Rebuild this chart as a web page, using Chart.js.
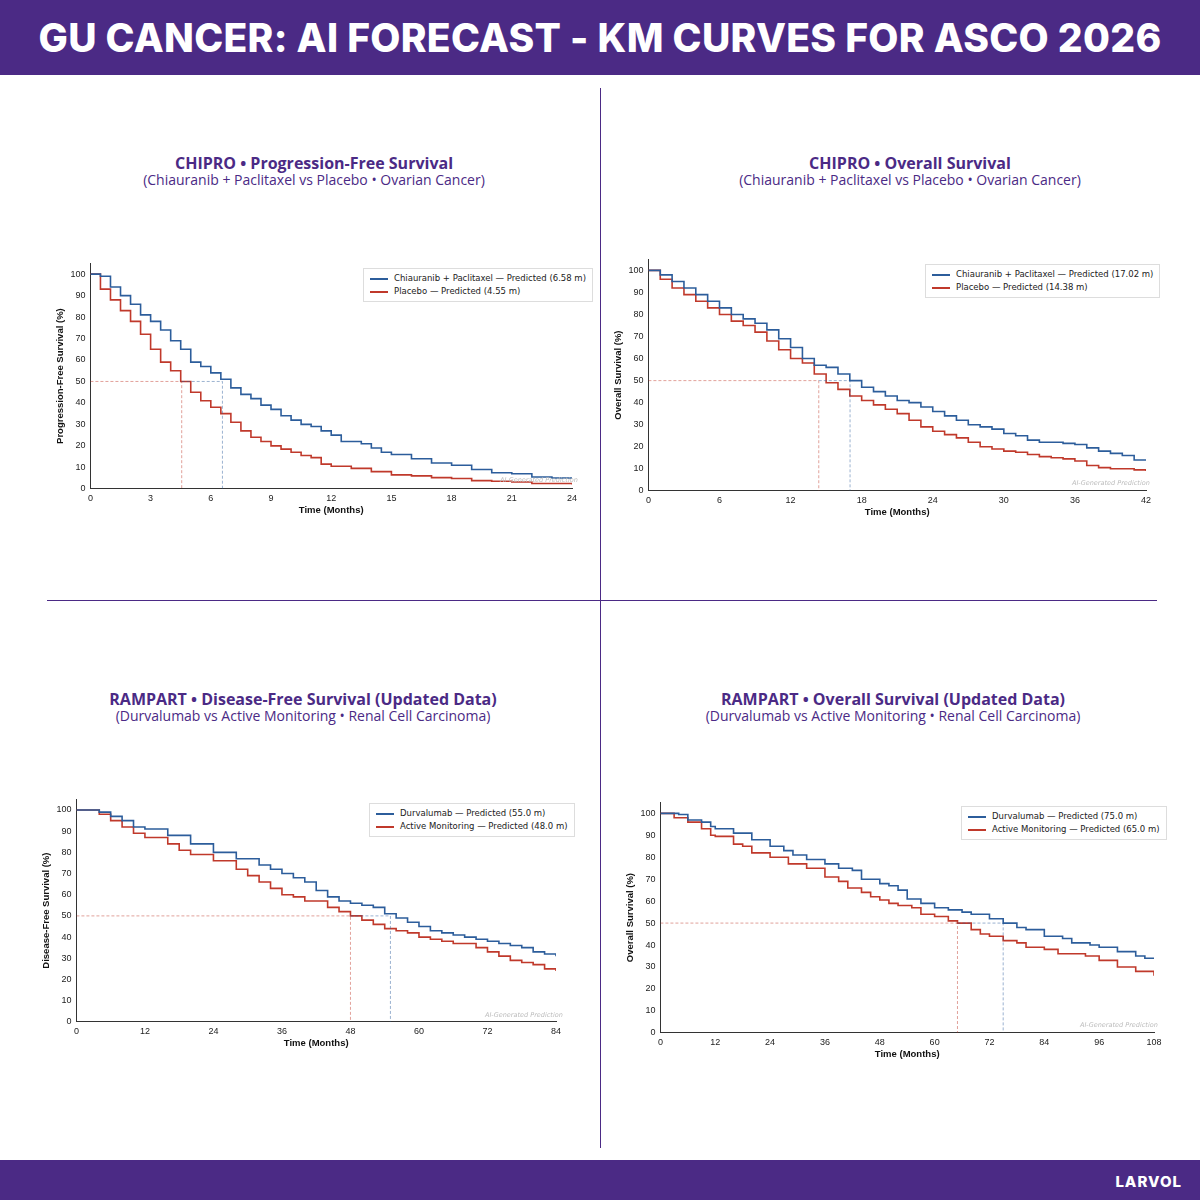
<!DOCTYPE html>
<html>
<head>
<meta charset="utf-8">
<script src="https://cdn.jsdelivr.net/npm/chart.js@4.4.6/dist/chart.umd.min.js"></script>
<style>
  html, body { margin: 0; padding: 0; }
  body { width: 1200px; height: 1200px; position: relative; background: #fff; font-family: "DejaVu Sans", sans-serif; overflow: hidden; }
  .band { position: absolute; left: 0; width: 1200px; background: #4b2a85; color: #fff; }
  #head { top: 0; height: 75px; font-family: Inter, "Open Sans", sans-serif; font-weight: 800; font-size: 39px; text-align: center; line-height: 75px; letter-spacing: 0.3px; }
  #foot { top: 1160px; height: 40px; font-family: Inter, sans-serif; font-weight: 800; font-size: 15px; letter-spacing: 1px; }
  #foot span { position: absolute; right: 18px; top: 12px; }
  .vline { position: absolute; left: 600px; top: 88px; width: 1px; height: 1060px; background: #4b2a85; }
  .hline { position: absolute; left: 47px; top: 600px; width: 1110px; height: 1px; background: #4b2a85; }
  .title { position: absolute; width: 560px; text-align: center; color: #4b2a85; font-family: "Open Sans", sans-serif; }
  .title b { display: block; font-size: 16px; font-weight: 700; }
  .title i { display: block; font-style: normal; font-size: 14px; margin-top: -4px; }
  .chart { position: absolute; }
  .legend { position: absolute; background: #fff; border: 1px solid #ddd; font-size: 8.5px; padding: 3px 6px; color: #222; line-height: 13px; }
  .legend div span { display: inline-block; width: 18px; height: 2px; vertical-align: middle; margin-right: 6px; }
  .wm { position: absolute; font-size: 6.5px; font-style: italic; color: #bbb; }
</style>
</head>
<body>
<div id="head" class="band">GU CANCER: AI FORECAST - KM CURVES FOR ASCO 2026</div>
<div id="foot" class="band"><span>LARVOL</span></div>
<div class="vline"></div>
<div class="hline"></div>

<div class="title" style="left:34px;top:152px"><b>CHIPRO • Progression-Free Survival</b><i>(Chiauranib + Paclitaxel vs Placebo • Ovarian Cancer)</i></div>
<div class="title" style="left:630px;top:152px"><b>CHIPRO • Overall Survival</b><i>(Chiauranib + Paclitaxel vs Placebo • Ovarian Cancer)</i></div>
<div class="title" style="left:23px;top:688px"><b>RAMPART • Disease-Free Survival (Updated Data)</b><i>(Durvalumab vs Active Monitoring • Renal Cell Carcinoma)</i></div>
<div class="title" style="left:613px;top:688px"><b>RAMPART • Overall Survival (Updated Data)</b><i>(Durvalumab vs Active Monitoring • Renal Cell Carcinoma)</i></div>

<canvas id="c1" class="chart" style="left:53px;top:256px" width="529" height="260"></canvas>
<canvas id="c2" class="chart" style="left:611px;top:252px" width="545" height="266"></canvas>
<canvas id="c3" class="chart" style="left:39px;top:792px" width="527" height="257"></canvas>
<canvas id="c4" class="chart" style="left:623px;top:795px" width="541" height="265"></canvas>

<div class="legend" style="left:363px;top:268px"><div><span style="background:#2c5d9b"></span>Chiauranib + Paclitaxel — Predicted (6.58 m)</div><div><span style="background:#c0392b"></span>Placebo — Predicted (4.55 m)</div></div>
<div class="legend" style="left:925px;top:264px"><div><span style="background:#2c5d9b"></span>Chiauranib + Paclitaxel — Predicted (17.02 m)</div><div><span style="background:#c0392b"></span>Placebo — Predicted (14.38 m)</div></div>
<div class="legend" style="left:369px;top:803px"><div><span style="background:#2c5d9b"></span>Durvalumab — Predicted (55.0 m)</div><div><span style="background:#c0392b"></span>Active Monitoring — Predicted (48.0 m)</div></div>
<div class="legend" style="left:961px;top:806px"><div><span style="background:#2c5d9b"></span>Durvalumab — Predicted (75.0 m)</div><div><span style="background:#c0392b"></span>Active Monitoring — Predicted (65.0 m)</div></div>

<div class="wm" style="left:500px;top:476px">AI-Generated Prediction</div>
<div class="wm" style="left:1072px;top:479px">AI-Generated Prediction</div>
<div class="wm" style="left:485px;top:1011px">AI-Generated Prediction</div>
<div class="wm" style="left:1080px;top:1021px">AI-Generated Prediction</div>

<script>
const BLUE = "#2c5d9b", RED = "#c0392b";

// ---- CHIPRO PFS ----
const pfsBlueT = [0,0.5,1,1.5,2,2.5,3,3.5,4,4.5,5,5.5,6,6.5,7,7.5,8,8.5,9,9.5,10,10.5,11,11.5,12,12.5,13,13.5,14,14.5,15,16,17,18,19,20,21,22,23,24];
const pfsBlueS = [100,99,94,90,86,81,78,74,69,65,59,57,54,51,47,44,42,39,37,34,32,30,29,27,25,22,22,21,19,17,16,14,12,11,9,7.5,7,5.5,5,5];
const pfsRedT = [0,0.5,1,1.5,2,2.5,3,3.5,4,4.5,5,5.5,6,6.5,7,7.5,8,8.5,9,9.5,10,10.5,11,11.5,12,13,14,15,16,17,18,19,20,21,22,24];
const pfsRedS = [100,93,88,83,78,72,65,59,55,50,45,41,38,35,31,27,24,22,20,18.5,17,15.5,14.5,11.5,10.5,9.5,8,6.5,6,5.2,4.8,3.8,3.5,3.2,2.5,2];
const pfsMedians = [6.58, 4.55];

// ---- CHIPRO OS ----
const osBlueT = [0,1,2,3,4,5,6,7,8,9,10,11,12,13,14,15,16,17,18,19,20,21,22,23,24,25,26,27,28,29,30,31,32,33,34,35,36,37,38,39,40,41,42];
const osBlueS = [100,98,95,92,89,86,83,80,78,76,73,69,65,60,57,56,53,50,47,45,43,41,40,38,36,34,32,30,29,28,26,25,23,22,22,21.5,21,19.5,18,17,16,14,14];
const osRedT = [0,1,2,3,4,5,6,7,8,9,10,11,12,13,14,15,16,17,18,19,20,21,22,23,24,25,26,27,28,29,30,31,32,33,34,35,36,37,38,39,40,41,42];
const osRedS = [100,96,92,89,86,83,80,77,75,72,68,64,60,58,53,49,46,43,41,39,37,35,32,29,27,25.5,24,22,20,19,18,17.5,16.5,15.5,15,14.5,13.5,11.5,10.5,10,10,9.5,9];
const osMedians = [17.02, 14.38];

// ---- RAMPART DFS ----
const dfsBlueT = [0,4,6,8,10,12,16,20,24,28,32,34,36,38,40,42,44,46,48,50,52,54,56,58,60,62,64,66,68,70,72,74,76,78,80,82,84];
const dfsBlueS = [100,99,97,95,92,91,88,84,80,77,74,72,70,68,66,62,59,57,56,55,54,51,49,47,45,43,42,41,40,39,38,37,36,35,33,32,31];
const dfsRedT = [0,4,6,8,10,12,16,18,20,24,28,30,32,34,36,38,40,42,44,46,48,50,52,54,56,58,60,62,64,66,68,70,72,74,76,78,80,82,84];
const dfsRedS = [100,98,95,92,89,87,84,81,79,76,72,69,66,63,60,59,57,57,54,52,50,48,46,44,43,42,40,39,38,37,37,35,33,31,29,28,27,25,24];
const dfsMedians = [55, 48];

// ---- RAMPART OS ----
const rosBlueT = [0,4,6,9,11,12,16,20,24,27,29,32,36,39,42,44,48,50,52,54,57,60,63,66,68,72,75,78,80,84,88,90,94,96,100,104,106,108];
const rosBlueS = [100,99.5,97,96,94,93,91,88,85,83,81,79,77,75,74,70,68,67,65,61,59,57,56,55,54,52,50,48,47,44,43,41,40,39,37,35,34,34];
const rosRedT = [0,3,6,9,11,12,16,18,20,24,28,32,36,39,41,44,46,48,50,52,55,57,60,63,65,68,70,72,75,78,80,84,87,90,93,96,100,104,108];
const rosRedS = [100,98,96,93,90,89.5,86,85,82,80,77,75,71,69,66,64,62,60.5,59,58,57,54,53,51,50,47,45,44,42,41,39,38,36,36,35,33,30,28,26];
const rosMedians = [75, 65];

function pts(t, s) { return t.map((x, i) => ({ x, y: s[i] })); }

function km(id, xMax, xStep, yTitle, blue, red, medians) {
  const medLine = (x0, m, color) => ({
    data: [{ x: x0, y: 50 }, { x: m, y: 50 }, { x: m, y: 0 }],
    borderColor: color, borderWidth: 0.8, borderDash: [3, 2], pointRadius: 0, fill: false,
  });
  new Chart(document.getElementById(id), {
    type: "line",
    data: {
      datasets: [
        medLine(medians[1], medians[0], "rgba(44,93,155,.6)"),
        medLine(0, medians[1], "rgba(192,57,43,.6)"),
        { data: pts(blue[0], blue[1]), borderColor: BLUE, borderWidth: 1.6, stepped: "before", pointRadius: 0 },
        { data: pts(red[0], red[1]), borderColor: RED, borderWidth: 1.6, stepped: "before", pointRadius: 0 },
      ],
    },
    options: {
      responsive: false, animation: false,
      layout: { padding: { right: 10, top: 0 } },
      plugins: { legend: { display: false }, tooltip: { enabled: false } },
      scales: {
        x: {
          type: "linear", min: 0, max: xMax,
          grid: { display: false, drawTicks: true, tickColor: "#333", tickLength: 3 },
          border: { color: "#333" },
          ticks: { stepSize: xStep, color: "#222", font: { size: 9 }, padding: 1, maxRotation: 0 },
          title: { display: true, text: "Time (Months)", color: "#111", font: { size: 9.5, weight: "bold" }, padding: 0 },
        },
        y: {
          min: 0, max: 105,
          afterBuildTicks: ax => { ax.ticks = ax.ticks.filter(t => t.value <= 100 && t.value % 10 === 0); },
          grid: { display: false, tickColor: "#333", tickLength: 3 },
          border: { color: "#333" },
          ticks: { stepSize: 10, color: "#222", font: { size: 9 }, padding: 2 },
          title: { display: true, text: yTitle, color: "#111", font: { size: 9.5, weight: "bold" }, padding: 2 },
        },
      },
    },
  });
}

km("c1", 24, 3, "Progression-Free Survival (%)", [pfsBlueT, pfsBlueS], [pfsRedT, pfsRedS], pfsMedians);
km("c2", 42, 6, "Overall Survival (%)", [osBlueT, osBlueS], [osRedT, osRedS], osMedians);
km("c3", 84, 12, "Disease-Free Survival (%)", [dfsBlueT, dfsBlueS], [dfsRedT, dfsRedS], dfsMedians);
km("c4", 108, 12, "Overall Survival (%)", [rosBlueT, rosBlueS], [rosRedT, rosRedS], rosMedians);
</script>
</body>
</html>
